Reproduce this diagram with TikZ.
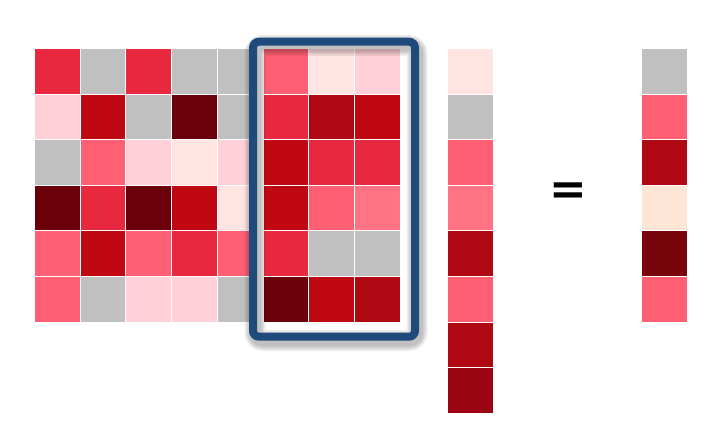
\documentclass[tikz,border=0pt]{standalone}
\usepackage{fontspec}
\newfontfamily\eqfont{DejaVu Sans}
\definecolor{cC}{HTML}{E8283F}
\definecolor{cG}{HTML}{C0C0C0}
\definecolor{cP}{HTML}{FF5F73}
\definecolor{cM}{HTML}{FFE4E1}
\definecolor{cL}{HTML}{FFD0D8}
\definecolor{cR}{HTML}{C00812}
\definecolor{cD}{HTML}{B00812}
\definecolor{cK}{HTML}{6B000A}
\definecolor{cQ}{HTML}{FF7385}
\definecolor{cX}{HTML}{9B0512}
\definecolor{cE}{HTML}{FFE5D5}
\definecolor{cY}{HTML}{78040B}
\definecolor{boxblue}{HTML}{1F4A7C}
\newcommand{\mrow}[3]{% row index, first col index, list
  \foreach \cc [count=\ii from #2] in {#3}{
    \fill[\cc] (35+\ii*45.72, 49+#1*45.6) rectangle ++(44.6,44.6);
  }
}
\begin{document}
\begin{tikzpicture}[x=1pt,y=-1pt]
\useasboundingbox (0,0) rectangle (725,441);
\fill[white] (0,0) rectangle (725,441);
% left part of matrix (cols 1-5)
\mrow{0}{0}{cC,cG,cC,cG,cG}
\mrow{1}{0}{cL,cR,cG,cK,cG}
\mrow{2}{0}{cG,cP,cL,cM,cL}
\mrow{3}{0}{cK,cC,cK,cR,cM}
\mrow{4}{0}{cP,cR,cP,cC,cP}
\mrow{5}{0}{cP,cG,cL,cL,cG}
% box interior
\fill[white, rounded corners=6] (253,41.7) rectangle (415,336.7);
% columns 6-8 inside the box
\mrow{0}{5}{cP,cM,cL}
\mrow{1}{5}{cC,cD,cR}
\mrow{2}{5}{cR,cC,cC}
\mrow{3}{5}{cR,cP,cQ}
\mrow{4}{5}{cC,cG,cG}
\mrow{5}{5}{cK,cR,cD}
% soft shadow of the frame
\foreach \w in {21,18,15,12}{
  \draw[black, opacity=0.065, line width=\w, rounded corners=8]
    (255,45.5) rectangle (417,340.5);
}
% frame
\draw[boxblue, line width=8, rounded corners=6] (253,41.7) rectangle (415,336.7);
% vector
\foreach \cc [count=\jj from 0] in {cM,cG,cP,cQ,cD,cP,cD,cX}{
  \fill[\cc] (448, 49+\jj*45.6) rectangle ++(44.6,44.6);
}
% result
\foreach \cc [count=\jj from 0] in {cG,cP,cD,cE,cY,cP}{
  \fill[\cc] (642, 49+\jj*45.6) rectangle ++(44.6,44.6);
}
\node[inner sep=0, font=\eqfont\bfseries\fontsize{45}{45}\selectfont] (eq) at (568.5,194) {=};
\end{tikzpicture}
\end{document}
